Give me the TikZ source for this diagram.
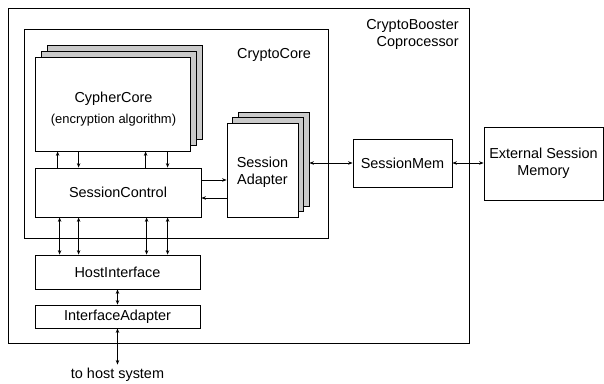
\documentclass[tikz,border=0pt]{standalone}
\usepackage{fontspec}
\setmainfont{Liberation Sans}
\usetikzlibrary{arrows.meta,calc,positioning}
\tikzset{
  block/.style={draw, fill=white, inner sep=0pt, align=center},
  shadowblock/.style={block, fill=gray!42},
  cyphersize/.style={minimum width=155bp, minimum height=94bp},
  adaptersize/.style={minimum width=71bp, minimum height=94bp},
}

\begin{document}
\begin{tikzpicture}[x=1bp,y=-1bp,line width=0.8bp,font=\fontsize{14.5}{17.5}\selectfont,>={Stealth[length=4.5bp,width=3.5bp]}]
\useasboundingbox (0,0) rectangle (604,383);
\node[block, minimum width=461bp, minimum height=335bp] (booster) at (238.5,175.5) {};
\node[block, minimum width=304bp, minimum height=209bp] (core) at (176,133.5) {};
\node[anchor=north east, align=right, inner sep=0pt] (boosterlabel) at (459,19) {CryptoBooster\\Coprocessor};
\node (corelabel) at (274,55) {CryptoCore};

\node[shadowblock, cyphersize] (cc3) at (124.5,92) {};
\node[shadowblock, cyphersize] (cc2) at (118.5,98) {};
\node[block, cyphersize] (cc) at (112.5,104) {};
\node[align=center] (cctext) at ($(cc)+(1,5)$) {CypherCore\\[3bp]{\fontsize{13}{15}\selectfont(encryption algorithm)}};

\node[shadowblock, adaptersize] (sa3) at (273.5,159) {};
\node[shadowblock, adaptersize] (sa2) at (268,164.5) {};
\node[block, adaptersize] (sa) at (262.5,170) {};
\node[align=center] (satext) at ($(sa)+(0,2)$) {Session\\Adapter};

\node[block, minimum width=166bp, minimum height=49bp] (sc) at (118,192.5) {SessionControl};
\node[block, minimum width=165bp, minimum height=34bp] (hi) at (117.5,272) {HostInterface};
\node[block, minimum width=165bp, minimum height=23bp] (ia) at (117.5,316.5) {InterfaceAdapter};
\node[block, minimum width=99bp, minimum height=48bp] (sm) at (402.5,163) {SessionMem};
\node[block, minimum width=119bp, minimum height=73bp] (ext) at (543.5,163.5) {External Session\\Memory};
\node (host) at (117.5,375) {to host system};

\foreach \o in {23,111}
  \draw[<-] ($(cc.south west)+(\o,0)$) coordinate (t) -- (t |- sc.north);
\foreach \o in {44,133}
  \draw[->] ($(cc.south west)+(\o,0)$) coordinate (t) -- (t |- sc.north);
\foreach \o in {25,44,112,133}
  \draw[<->] ($(sc.south west)+(\o,0)$) coordinate (b) -- (b |- hi.north);

\draw[->] ($(sc.east)+(0,-12.5)$) coordinate (r) -- (r -| sa.west);
\draw[<-] ($(sc.east)+(0,5.5)$) coordinate (l) -- (l -| sa.west);
\draw[<->] (sa3.east |- sm.west) -- (sm.west);
\draw[<->] (sm.east) -- (sm.east -| ext.west);
\draw[<->] (hi.south) -- (ia.north);
\draw[<->] (ia.south) -- (host.north);
\end{tikzpicture}
\end{document}
